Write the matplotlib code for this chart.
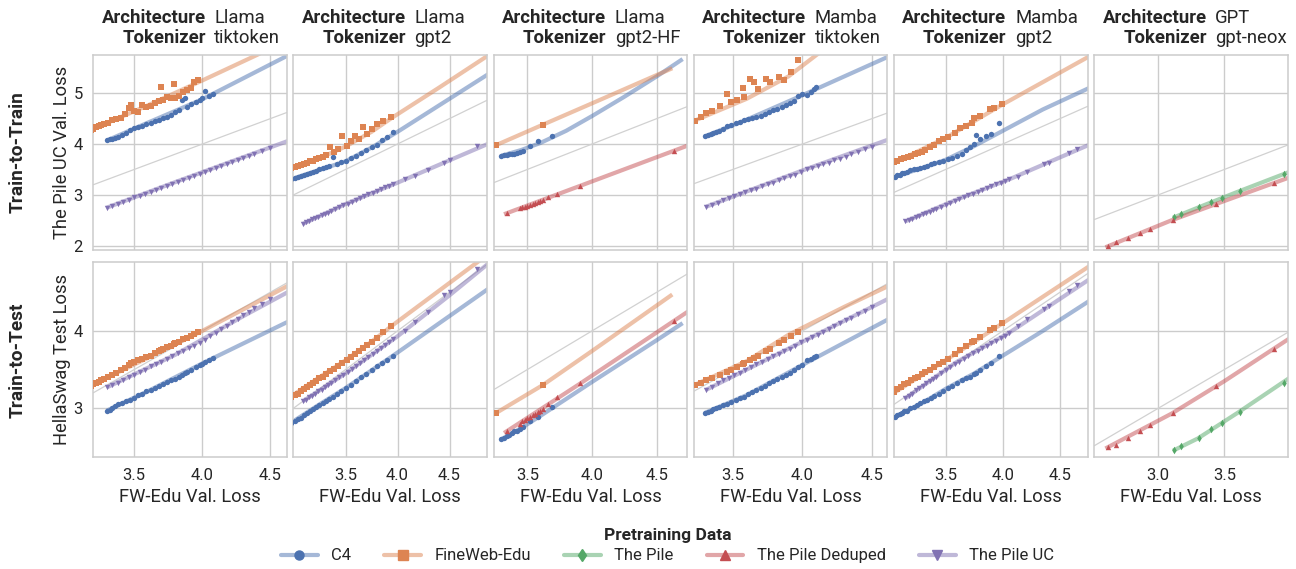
import matplotlib.pyplot as plt
import seaborn as sns
from matplotlib.lines import Line2D

# x = FW-Edu Val. Loss, pile = The Pile UC Val. Loss, hs = HellaSwag Test Loss
# fit_* = points

# Llama / tiktoken
lt_c4_x = [3.30, 3.32, 3.34, 3.36, 3.38, 3.41, 3.44, 3.47, 3.50, 3.53, 3.56, 3.59, 3.62, 3.65, 3.68,
           3.71, 3.74, 3.77, 3.80, 3.83, 3.85, 3.87, 3.89, 3.92, 3.95, 3.98, 4.00, 4.02, 4.05, 4.08]
lt_c4_pile = [4.07, 4.09, 4.10, 4.12, 4.14, 4.18, 4.22, 4.27, 4.31, 4.33, 4.36, 4.40, 4.41, 4.45, 4.48,
              4.51, 4.53, 4.58, 4.62, 4.67, 4.86, 4.90, 4.72, 4.78, 4.82, 4.86, 4.91, 5.05, 4.95, 4.99]
lt_c4_hs = [2.97, 2.98, 3.00, 3.03, 3.06, 3.07, 3.09, 3.11, 3.13, 3.17, 3.19, 3.22, 3.24, 3.26, 3.29,
            3.31, 3.34, 3.36, 3.38, 3.41, 3.43, 3.45, 3.47, 3.50, 3.53, 3.56, 3.57, 3.60, 3.63, 3.65]
lt_c4_fit_x = [3.30, 3.60, 4.00, 4.70]
lt_c4_fit_pile = [4.07, 4.42, 4.88, 5.84]
lt_c4_fit_hs = [2.97, 3.22, 3.58, 4.18]

lt_fw_x = [3.18, 3.20, 3.22, 3.24, 3.26, 3.28, 3.31, 3.34, 3.37, 3.40, 3.43, 3.46, 3.48, 3.50, 3.53, 3.56,
           3.59, 3.62, 3.65, 3.68, 3.70, 3.71, 3.74, 3.77, 3.79, 3.80, 3.83, 3.86, 3.89, 3.92, 3.94, 3.97]
lt_fw_pile = [4.28, 4.30, 4.33, 4.35, 4.37, 4.40, 4.42, 4.47, 4.50, 4.52, 4.60, 4.70, 4.76, 4.65, 4.63, 4.76,
              4.73, 4.74, 4.80, 4.84, 5.13, 4.86, 4.93, 4.91, 5.18, 4.90, 4.94, 5.02, 5.06, 5.10, 5.21, 5.25]
lt_fw_hs = [3.29, 3.31, 3.33, 3.34, 3.36, 3.38, 3.40, 3.43, 3.46, 3.49, 3.52, 3.56, 3.58, 3.60, 3.62, 3.64,
            3.66, 3.68, 3.71, 3.74, 3.75, 3.77, 3.79, 3.81, 3.83, 3.84, 3.86, 3.89, 3.91, 3.94, 3.96, 3.99]
lt_fw_fit_x = [3.15, 3.60, 4.00, 4.40, 4.70]
lt_fw_fit_pile = [4.24, 4.76, 5.25, 5.75, 6.15]
lt_fw_fit_hs = [3.27, 3.65, 4.00, 4.37, 4.65]

lt_uc_x = [3.30, 3.34, 3.38, 3.42, 3.46, 3.50, 3.54, 3.58, 3.62, 3.66, 3.70, 3.74, 3.78, 3.82, 3.86,
           3.90, 3.94, 3.98, 4.02, 4.06, 4.10, 4.14, 4.18, 4.22, 4.26, 4.30, 4.34, 4.38, 4.44, 4.50]
lt_uc_pile = [2.75, 2.78, 2.82, 2.86, 2.90, 2.95, 2.98, 3.02, 3.06, 3.10, 3.14, 3.17, 3.22, 3.26, 3.29,
              3.34, 3.37, 3.42, 3.45, 3.49, 3.53, 3.57, 3.61, 3.65, 3.69, 3.73, 3.77, 3.81, 3.87, 3.93]
lt_uc_hs = [3.27, 3.30, 3.33, 3.37, 3.40, 3.43, 3.47, 3.50, 3.54, 3.57, 3.60, 3.64, 3.67, 3.71, 3.74,
            3.78, 3.81, 3.84, 3.88, 3.93, 3.97, 4.02, 4.06, 4.11, 4.15, 4.20, 4.24, 4.29, 4.35, 4.41]
lt_uc_fit_x = [3.30, 3.80, 4.30, 4.70]
lt_uc_fit_pile = [2.75, 3.25, 3.74, 4.13]
lt_uc_fit_hs = [3.27, 3.69, 4.19, 4.57]

# Llama / gpt2
lg_c4_x = [2.98, 3.01, 3.04, 3.07, 3.10, 3.13, 3.16, 3.19, 3.22, 3.25, 3.28, 3.31, 3.34,
           3.38, 3.42, 3.46, 3.50, 3.55, 3.60, 3.65, 3.70, 3.75, 3.80, 3.85, 3.90, 3.96]
lg_c4_pile = [3.31, 3.33, 3.35, 3.37, 3.39, 3.41, 3.43, 3.45, 3.47, 3.50, 3.52, 3.54, 3.56,
              3.75, 3.61, 3.64, 3.67, 3.72, 3.77, 3.82, 3.88, 3.95, 3.99, 4.08, 4.14, 4.23]
lg_c4_hs = [2.81, 2.83, 2.86, 2.88, 2.91, 2.94, 2.96, 2.99, 3.02, 3.04, 3.07, 3.09, 3.12,
            3.15, 3.19, 3.22, 3.26, 3.30, 3.35, 3.40, 3.44, 3.49, 3.54, 3.58, 3.63, 3.68]
lg_c4_fit_x = [2.95, 3.25, 3.50, 3.75, 4.00, 4.90]
lg_c4_fit_pile = [3.29, 3.49, 3.66, 3.93, 4.24, 5.41]
lg_c4_fit_hs = [2.79, 3.05, 3.26, 3.49, 3.72, 4.57]

lg_fw_x = [2.98, 3.01, 3.04, 3.07, 3.10, 3.13, 3.16, 3.19, 3.22, 3.25, 3.28, 3.31, 3.35,
           3.39, 3.43, 3.47, 3.51, 3.55, 3.59, 3.63, 3.67, 3.71, 3.75, 3.80, 3.86, 3.94]
lg_fw_pile = [3.52, 3.55, 3.56, 3.58, 3.61, 3.63, 3.66, 3.67, 3.70, 3.72, 3.75, 3.78, 3.95,
              3.84, 3.90, 4.15, 3.97, 4.05, 4.15, 4.10, 4.34, 4.20, 4.30, 4.40, 4.46, 4.54]
lg_fw_hs = [3.15, 3.17, 3.19, 3.22, 3.25, 3.27, 3.30, 3.33, 3.35, 3.39, 3.41, 3.44, 3.48,
            3.51, 3.55, 3.59, 3.63, 3.66, 3.70, 3.74, 3.78, 3.82, 3.86, 3.91, 3.99, 4.06]
lg_fw_fit_x = [2.95, 3.25, 3.50, 3.75, 3.95, 4.40, 4.90]
lg_fw_fit_pile = [3.49, 3.72, 3.95, 4.24, 4.52, 5.11, 5.78]
lg_fw_fit_hs = [3.13, 3.40, 3.62, 3.86, 4.07, 4.52, 5.02]

lg_uc_x = [3.09, 3.12, 3.15, 3.18, 3.21, 3.24, 3.27, 3.30, 3.33, 3.36, 3.40, 3.44, 3.48, 3.52, 3.56, 3.60,
           3.64, 3.68, 3.72, 3.76, 3.80, 3.84, 3.88, 3.92, 3.96, 4.07, 4.17, 4.29, 4.45, 4.50, 4.76]
lg_uc_pile = [2.43, 2.46, 2.49, 2.52, 2.54, 2.57, 2.60, 2.63, 2.65, 2.68, 2.72, 2.76, 2.80, 2.83, 2.87, 2.90,
              2.94, 2.97, 3.01, 3.04, 3.08, 3.11, 3.15, 3.18, 3.22, 3.31, 3.37, 3.48, 3.62, 3.68, 3.97]
lg_uc_hs = [3.09, 3.11, 3.14, 3.16, 3.19, 3.22, 3.24, 3.27, 3.30, 3.32, 3.36, 3.40, 3.43, 3.47, 3.51, 3.54,
            3.58, 3.62, 3.66, 3.70, 3.74, 3.78, 3.82, 3.86, 3.90, 4.00, 4.12, 4.25, 4.46, 4.50, 4.80]
lg_uc_fit_x = [3.09, 3.50, 4.00, 4.50, 4.90]
lg_uc_fit_pile = [2.43, 2.82, 3.24, 3.68, 4.03]
lg_uc_fit_hs = [3.09, 3.45, 3.93, 4.46, 4.90]

# Llama / gpt2-HF
lh_c4_x = [3.30, 3.32, 3.34, 3.36, 3.38, 3.40, 3.42, 3.44, 3.47, 3.52, 3.58, 3.69]
lh_c4_pile = [3.77, 3.78, 3.79, 3.80, 3.80, 3.81, 3.82, 3.84, 3.86, 3.97, 4.06, 4.16]
lh_c4_hs = [2.60, 2.62, 2.64, 2.66, 2.68, 2.70, 2.71, 2.73, 2.76, 2.83, 2.89, 3.01]
lh_c4_fit_x = [3.30, 3.45, 3.60, 3.80, 4.00, 4.25, 4.50, 4.70]
lh_c4_fit_pile = [3.77, 3.88, 4.02, 4.26, 4.55, 4.93, 5.33, 5.67]
lh_c4_fit_hs = [2.60, 2.74, 2.90, 3.12, 3.34, 3.61, 3.88, 4.10]

lh_fw_x = [3.26, 3.62]
lh_fw_pile = [3.98, 4.38]
lh_fw_hs = [2.94, 3.30]
lh_fw_fit_x = [3.26, 3.62, 4.00, 4.62]
lh_fw_fit_pile = [3.98, 4.38, 4.80, 5.49]
lh_fw_fit_hs = [2.94, 3.30, 3.74, 4.47]

lh_dd_x = [3.34, 3.44, 3.46, 3.48, 3.50, 3.52, 3.54, 3.56, 3.58, 3.60, 3.62, 3.66, 3.73, 3.91, 4.63]
lh_dd_pile = [2.64, 2.74, 2.76, 2.77, 2.79, 2.81, 2.83, 2.84, 2.86, 2.88, 2.90, 2.96, 3.02, 3.17, 3.87]
lh_dd_hs = [2.70, 2.80, 2.83, 2.85, 2.87, 2.89, 2.91, 2.93, 2.95, 2.97, 2.99, 3.06, 3.14, 3.33, 4.13]
lh_dd_fit_x = [3.32, 3.90, 4.75]
lh_dd_fit_pile = [2.62, 3.17, 3.98]
lh_dd_fit_hs = [2.68, 3.31, 4.26]

# Mamba / tiktoken
mt_c4_x = [3.30, 3.32, 3.34, 3.36, 3.38, 3.40, 3.43, 3.46, 3.49, 3.52, 3.55, 3.58, 3.61, 3.64, 3.67,
           3.70, 3.73, 3.76, 3.79, 3.82, 3.85, 3.88, 3.91, 3.94, 3.97, 4.00, 4.03, 4.06, 4.08, 4.10]
mt_c4_pile = [4.15, 4.17, 4.19, 4.22, 4.24, 4.26, 4.30, 4.35, 4.38, 4.41, 4.44, 4.47, 4.49, 4.52, 4.54,
              4.56, 4.60, 4.63, 4.66, 4.68, 4.72, 4.76, 4.80, 4.84, 4.95, 4.98, 4.96, 5.02, 5.08, 5.12]
mt_c4_hs = [2.94, 2.95, 2.97, 2.99, 3.00, 3.02, 3.04, 3.06, 3.08, 3.11, 3.13, 3.15, 3.18, 3.21, 3.24,
            3.26, 3.29, 3.33, 3.35, 3.38, 3.40, 3.43, 3.46, 3.49, 3.53, 3.56, 3.62, 3.64, 3.66, 3.67]
mt_c4_fit_x = [3.30, 3.60, 4.00, 4.70]
mt_c4_fit_pile = [4.15, 4.48, 4.96, 5.82]
mt_c4_fit_hs = [2.94, 3.17, 3.56, 4.23]

mt_fw_x = [3.23, 3.27, 3.31, 3.35, 3.41, 3.46, 3.49, 3.53, 3.57, 3.58,
           3.62, 3.65, 3.68, 3.74, 3.77, 3.83, 3.87, 3.92, 3.97]
mt_fw_pile = [4.46, 4.53, 4.61, 4.64, 4.74, 4.98, 4.82, 4.87, 5.10, 4.93,
              5.28, 5.21, 5.08, 5.28, 5.21, 5.32, 5.25, 5.42, 5.65]
mt_fw_hs = [3.30, 3.33, 3.36, 3.39, 3.43, 3.47, 3.50, 3.53, 3.57, 3.58,
            3.62, 3.65, 3.68, 3.74, 3.77, 3.84, 3.88, 3.93, 3.99]
mt_fw_fit_x = [3.20, 3.60, 3.90, 4.10, 4.30, 4.70]
mt_fw_fit_pile = [4.43, 4.89, 5.33, 5.75, 6.15, 6.90]
mt_fw_fit_hs = [3.28, 3.61, 3.95, 4.13, 4.31, 4.65]

mt_uc_x = [3.31, 3.35, 3.39, 3.43, 3.47, 3.51, 3.55, 3.59, 3.63, 3.67, 3.71, 3.75, 3.79, 3.83, 3.87,
           3.91, 3.95, 3.99, 4.03, 4.07, 4.11, 4.15, 4.19, 4.23, 4.27, 4.31, 4.35, 4.40, 4.45, 4.50]
mt_uc_pile = [2.77, 2.81, 2.85, 2.89, 2.93, 2.97, 3.01, 3.05, 3.09, 3.12, 3.17, 3.21, 3.24, 3.29, 3.33,
              3.38, 3.40, 3.45, 3.51, 3.52, 3.57, 3.60, 3.63, 3.69, 3.71, 3.75, 3.80, 3.85, 3.91, 3.95]
mt_uc_hs = [3.24, 3.28, 3.32, 3.36, 3.39, 3.43, 3.46, 3.50, 3.53, 3.57, 3.60, 3.64, 3.67, 3.70, 3.74,
            3.77, 3.81, 3.85, 3.88, 3.92, 3.95, 3.99, 4.03, 4.06, 4.10, 4.14, 4.17, 4.22, 4.26, 4.31]
mt_uc_fit_x = [3.31, 4.00, 4.70]
mt_uc_fit_pile = [2.77, 3.48, 4.17]
mt_uc_fit_hs = [3.24, 3.86, 4.49]

# Mamba / gpt2
mg_c4_x = [3.06, 3.08, 3.10, 3.12, 3.14, 3.16, 3.19, 3.22, 3.25, 3.28, 3.31, 3.34, 3.37, 3.40,
           3.44, 3.48, 3.52, 3.56, 3.60, 3.64, 3.68, 3.71, 3.75, 3.77, 3.80, 3.85, 3.90, 3.97]
mg_c4_pile = [3.36, 3.39, 3.40, 3.43, 3.44, 3.46, 3.48, 3.50, 3.51, 3.53, 3.55, 3.57, 3.60, 3.62,
              3.64, 3.67, 3.70, 3.73, 3.77, 3.80, 3.88, 3.95, 4.00, 4.18, 4.10, 4.15, 4.20, 4.41]
mg_c4_hs = [2.89, 2.91, 2.92, 2.94, 2.96, 2.97, 3.00, 3.02, 3.04, 3.07, 3.09, 3.11, 3.13, 3.16,
            3.19, 3.22, 3.26, 3.29, 3.32, 3.36, 3.39, 3.41, 3.44, 3.46, 3.49, 3.54, 3.59, 3.68]
mg_c4_fit_x = [3.06, 3.30, 3.50, 3.75, 4.00, 4.35, 4.80]
mg_c4_fit_pile = [3.36, 3.53, 3.69, 3.96, 4.26, 4.68, 5.15]
mg_c4_fit_hs = [2.89, 3.07, 3.25, 3.45, 3.68, 4.00, 4.43]

mg_fw_x = [3.05, 3.08, 3.11, 3.14, 3.17, 3.20, 3.23, 3.26, 3.29, 3.32, 3.36, 3.40,
           3.44, 3.48, 3.52, 3.58, 3.63, 3.68, 3.73, 3.75, 3.80, 3.89, 3.92, 3.99]
mg_fw_pile = [3.64, 3.67, 3.70, 3.73, 3.75, 3.77, 3.80, 3.82, 3.85, 3.88, 3.95, 3.99,
              4.05, 4.10, 4.14, 4.22, 4.31, 4.36, 4.41, 4.51, 4.55, 4.69, 4.70, 4.78]
mg_fw_hs = [3.21, 3.25, 3.28, 3.31, 3.33, 3.36, 3.39, 3.41, 3.44, 3.47, 3.50, 3.53,
            3.57, 3.60, 3.64, 3.70, 3.75, 3.80, 3.85, 3.87, 3.92, 4.01, 4.04, 4.10]
mg_fw_fit_x = [3.05, 3.50, 4.00, 4.80]
mg_fw_fit_pile = [3.63, 4.12, 4.78, 5.78]
mg_fw_fit_hs = [3.20, 3.62, 4.10, 4.88]

mg_uc_x = [3.15, 3.18, 3.21, 3.24, 3.27, 3.30, 3.33, 3.36, 3.39, 3.42, 3.46, 3.50, 3.54, 3.58, 3.62, 3.66,
           3.70, 3.74, 3.78, 3.82, 3.86, 3.90, 3.94, 3.98, 4.02, 4.05, 4.13, 4.21, 4.36, 4.40, 4.58, 4.65]
mg_uc_pile = [2.48, 2.51, 2.53, 2.56, 2.59, 2.62, 2.64, 2.67, 2.70, 2.73, 2.76, 2.80, 2.84, 2.88, 2.92, 2.95,
              2.99, 3.02, 3.06, 3.10, 3.13, 3.17, 3.21, 3.24, 3.28, 3.31, 3.36, 3.46, 3.61, 3.63, 3.83, 3.90]
mg_uc_hs = [3.13, 3.16, 3.19, 3.23, 3.26, 3.29, 3.32, 3.35, 3.38, 3.41, 3.45, 3.50, 3.53, 3.57, 3.60, 3.64,
            3.67, 3.71, 3.74, 3.78, 3.81, 3.84, 3.87, 3.91, 3.94, 3.97, 4.06, 4.15, 4.28, 4.32, 4.52, 4.59]
mg_uc_fit_x = [3.15, 3.60, 4.05, 4.80]
mg_uc_fit_pile = [2.48, 2.91, 3.30, 4.03]
mg_uc_fit_hs = [3.13, 3.60, 3.97, 4.71]

# GPT / gpt-neox
gn_pile_x = [3.12, 3.17, 3.31, 3.40, 3.48, 3.62, 3.95]
gn_pile_pile = [2.56, 2.62, 2.76, 2.86, 2.93, 3.07, 3.41]
gn_pile_hs = [2.46, 2.51, 2.62, 2.73, 2.81, 2.95, 3.33]
gn_pile_fit_x = [3.11, 3.30, 3.60, 4.00]
gn_pile_fit_pile = [2.55, 2.75, 3.06, 3.46]
gn_pile_fit_hs = [2.45, 2.61, 2.94, 3.40]

gn_dd_x = [2.62, 2.68, 2.77, 2.86, 2.94, 3.11, 3.44, 3.88]
gn_dd_pile = [1.99, 2.07, 2.15, 2.25, 2.33, 2.51, 2.83, 3.23]
gn_dd_hs = [2.50, 2.53, 2.62, 2.71, 2.78, 2.94, 3.29, 3.77]
gn_dd_fit_x = [2.60, 3.10, 3.50, 4.00]
gn_dd_fit_pile = [1.97, 2.50, 2.88, 3.35]
gn_dd_fit_hs = [2.48, 2.93, 3.35, 3.91]

names = ["C4", "FineWeb-Edu", "The Pile", "The Pile Deduped", "The Pile UC"]
palette = dict(zip(names, sns.color_palette("deep", 5)))
markers = dict(zip(names, ["o", "s", "d", "^", "v"]))

columns = [
    ("Llama", "tiktoken", (3.2, 4.62), [3.5, 4.0, 4.5], [
        ("C4", lt_c4_x, lt_c4_pile, lt_c4_hs, lt_c4_fit_x, lt_c4_fit_pile, lt_c4_fit_hs),
        ("FineWeb-Edu", lt_fw_x, lt_fw_pile, lt_fw_hs, lt_fw_fit_x, lt_fw_fit_pile, lt_fw_fit_hs),
        ("The Pile UC", lt_uc_x, lt_uc_pile, lt_uc_hs, lt_uc_fit_x, lt_uc_fit_pile, lt_uc_fit_hs)]),
    ("Llama", "gpt2", (3.0, 4.86), [3.5, 4.0, 4.5], [
        ("C4", lg_c4_x, lg_c4_pile, lg_c4_hs, lg_c4_fit_x, lg_c4_fit_pile, lg_c4_fit_hs),
        ("FineWeb-Edu", lg_fw_x, lg_fw_pile, lg_fw_hs, lg_fw_fit_x, lg_fw_fit_pile, lg_fw_fit_hs),
        ("The Pile UC", lg_uc_x, lg_uc_pile, lg_uc_hs, lg_uc_fit_x, lg_uc_fit_pile, lg_uc_fit_hs)]),
    ("Llama", "gpt2-HF", (3.24, 4.735), [3.5, 4.0, 4.5], [
        ("C4", lh_c4_x, lh_c4_pile, lh_c4_hs, lh_c4_fit_x, lh_c4_fit_pile, lh_c4_fit_hs),
        ("FineWeb-Edu", lh_fw_x, lh_fw_pile, lh_fw_hs, lh_fw_fit_x, lh_fw_fit_pile, lh_fw_fit_hs),
        ("The Pile Deduped", lh_dd_x, lh_dd_pile, lh_dd_hs, lh_dd_fit_x, lh_dd_fit_pile, lh_dd_fit_hs)]),
    ("Mamba", "tiktoken", (3.22, 4.61), [3.5, 4.0, 4.5], [
        ("C4", mt_c4_x, mt_c4_pile, mt_c4_hs, mt_c4_fit_x, mt_c4_fit_pile, mt_c4_fit_hs),
        ("FineWeb-Edu", mt_fw_x, mt_fw_pile, mt_fw_hs, mt_fw_fit_x, mt_fw_fit_pile, mt_fw_fit_hs),
        ("The Pile UC", mt_uc_x, mt_uc_pile, mt_uc_hs, mt_uc_fit_x, mt_uc_fit_pile, mt_uc_fit_hs)]),
    ("Mamba", "gpt2", (3.05, 4.74), [3.5, 4.0, 4.5], [
        ("C4", mg_c4_x, mg_c4_pile, mg_c4_hs, mg_c4_fit_x, mg_c4_fit_pile, mg_c4_fit_hs),
        ("FineWeb-Edu", mg_fw_x, mg_fw_pile, mg_fw_hs, mg_fw_fit_x, mg_fw_fit_pile, mg_fw_fit_hs),
        ("The Pile UC", mg_uc_x, mg_uc_pile, mg_uc_hs, mg_uc_fit_x, mg_uc_fit_pile, mg_uc_fit_hs)]),
    ("GPT", "gpt-neox", (2.515, 3.98), [3.0, 3.5], [
        ("The Pile", gn_pile_x, gn_pile_pile, gn_pile_hs, gn_pile_fit_x, gn_pile_fit_pile, gn_pile_fit_hs),
        ("The Pile Deduped", gn_dd_x, gn_dd_pile, gn_dd_hs, gn_dd_fit_x, gn_dd_fit_pile, gn_dd_fit_hs)]),
]

row_names = ["Train-to-Train", "Train-to-Test"]
row_ylabels = ["The Pile UC Val. Loss", "HellaSwag Test Loss"]
row_ylims = [(1.92, 5.75), (2.366, 4.884)]
row_yticks = [[2, 3, 4, 5], [3, 4]]

sns.set_theme(style="whitegrid")
plt.rcParams["font.family"] = ["Roboto", "DejaVu Sans"]
textc = "0.15"

fig, axes = plt.subplots(2, 6, figsize=(12.96, 5.69), dpi=100, sharey="row")
fig.subplots_adjust(left=0.072, right=0.9936, top=0.9033, bottom=0.1963, wspace=0.0346, hspace=0.065)

for j, (arch, tok, xlim, xticks, series) in enumerate(columns):
    for i in range(2):
        ax = axes[i, j]
        # y = x reference
        ax.plot(xlim, xlim, color="0.82", lw=0.9, zorder=1)
        for name, x, pile, hs, fx, fpile, fhs in series:
            y = pile if i == 0 else hs
            fy = fpile if i == 0 else fhs
            c = palette[name]
            ax.plot(fx, fy, color=c, lw=3, alpha=0.5, solid_capstyle="butt", zorder=2)
            ax.scatter(x, y, color=c, marker=markers[name], s=15, linewidths=0, zorder=3)
        ax.set_xlim(xlim)
        ax.set_ylim(row_ylims[i])
        ax.set_xticks(xticks)
        ax.set_yticks(row_yticks[i])
        ax.tick_params(axis="both", labelsize=12, pad=7.5, colors=textc, length=0)
        if i == 0:
            ax.tick_params(labelbottom=False)
        else:
            ax.set_xticklabels([f"{t:.1f}" for t in xticks])
            ax.set_xlabel("FW-Edu Val. Loss", fontsize=13.2, color=textc, labelpad=4)
        for sp in ax.spines.values():
            sp.set_color("0.8")
            sp.set_linewidth(1.1)
        ax.grid(color="0.8", lw=1)

    top = axes[0, j]
    for k, (key, val) in enumerate([("Architecture", arch), ("Tokenizer", tok)]):
        yoff = 26.5 - k * 14.5
        top.annotate(key, xy=(0.5, 1), xycoords="axes fraction", xytext=(11.3, yoff),
                     textcoords="offset points", ha="right", va="center",
                     fontsize=13.3, fontweight="bold", color=textc)
        top.annotate(val, xy=(0.5, 1), xycoords="axes fraction", xytext=(17.5, yoff),
                     textcoords="offset points", ha="left", va="center",
                     fontsize=13.3, color=textc)

for i in range(2):
    ax = axes[i, 0]
    ax.set_yticklabels([str(t) for t in row_yticks[i]])
    pos = ax.get_position()
    yc = (pos.y0 + pos.y1) / 2
    fig.text(62 / 1296, yc, row_ylabels[i], rotation=90, ha="center", va="center",
             fontsize=13.2, color=textc)
    fig.text(18 / 1296, yc, row_names[i], rotation=90, ha="center", va="center",
             fontsize=13.8, fontweight="bold", color=textc)

handles = []
for name in names:
    c = palette[name]
    handles.append(Line2D([], [], color=(*c, 0.5), lw=3, marker=markers[name], markersize=6.5,
                          markerfacecolor=c, markeredgecolor=c))
leg = fig.legend(handles, names, loc="upper center", bbox_to_anchor=(0.515, 0.083), ncol=5,
                 frameon=False, title="Pretraining Data", fontsize=12,
                 title_fontproperties={"weight": "bold", "size": 12.5},
                 handlelength=2.2, columnspacing=2.0, borderaxespad=0, labelspacing=0.3)
for t in leg.get_texts():
    t.set_color(textc)
leg.get_title().set_color(textc)

fig.savefig("out.png", dpi=100)
